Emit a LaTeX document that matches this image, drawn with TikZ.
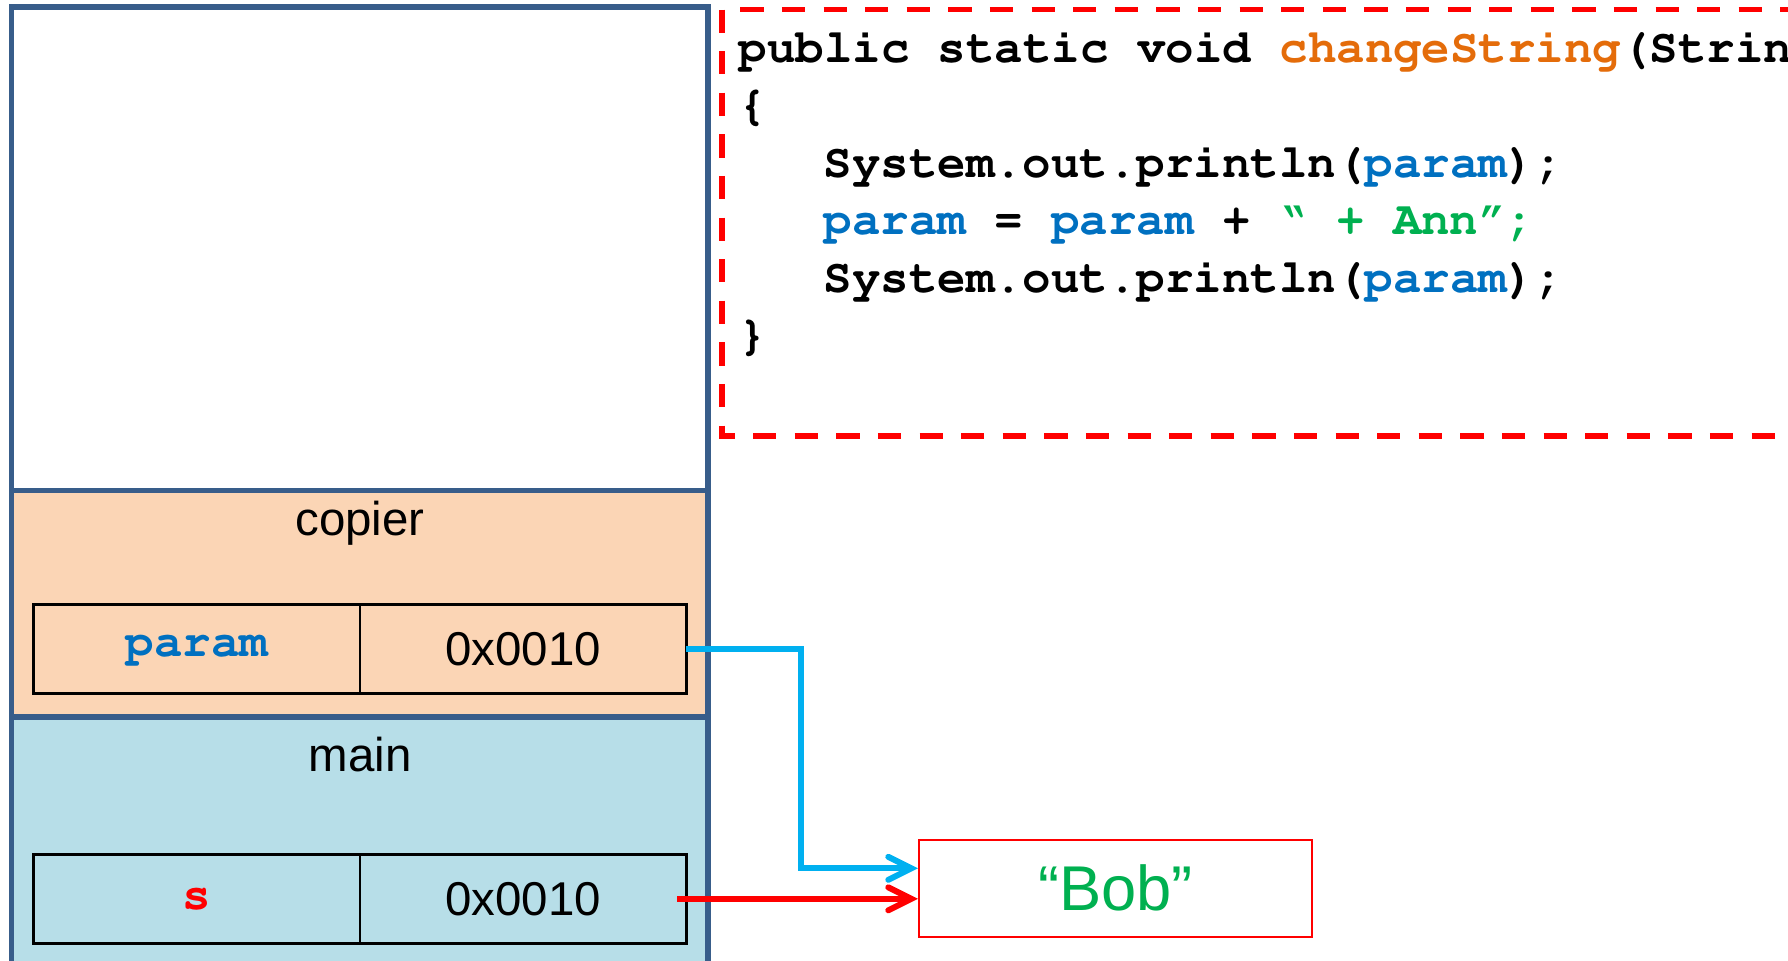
\documentclass[tikz,border=0pt]{standalone}
\usepackage[T1]{fontenc}
\usepackage{fontspec}
\setmainfont{Liberation Sans}
\newcommand{\codefont}{\fontencoding{T1}\fontfamily{pcr}\selectfont}
\usetikzlibrary{arrows.meta, positioning}
\definecolor{stackline}{HTML}{385D8A}
\definecolor{framepeach}{HTML}{FBD5B5}
\definecolor{framecyan}{HTML}{B7DEE8}
\definecolor{refblue}{HTML}{00B0F0}
\definecolor{codeblue}{HTML}{0070C0}
\definecolor{codegreen}{HTML}{00B050}
\definecolor{codeorange}{HTML}{E46C0A}
\definecolor{refred}{HTML}{FF0000}

\begin{document}
\begin{tikzpicture}[
    stackframe/.style={draw=stackline, line width=1.5pt},
    framelabel/.style={anchor=base, inner sep=0pt, font=\fontsize{13.5}{16}\selectfont},
    cellbox/.style={draw=black, line width=0.75pt, minimum width=3.264cm, minimum height=0.89cm, inner sep=0pt, outer sep=0pt, font=\fontsize{13.5}{16}\selectfont},
    varname/.style={cellbox, font=\codefont\bfseries\fontsize{13.5}{16}\selectfont},
    codeline/.style={anchor=base west, inner sep=0pt, font=\codefont\bfseries\fontsize{13.5}{16}\selectfont},
    codebox/.style={refred, line width=1.6pt, dash pattern=on 2.33mm off 1.83mm},
    refarrow/.style={-{Straight Barb[length=2.3mm, width=2.3mm, line cap=round]}, line width=1.7pt}
  ]
    \useasboundingbox (0,0) rectangle (17.88,-9.60);
    \clip (0,0) rectangle (17.88,-9.60);

    % Stack (left)
    \draw[stackframe, fill=white] (0.115,-0.07) rectangle (7.08,-4.905);
    \draw[stackframe, fill=framepeach] (0.115,-4.905) rectangle (7.08,-7.17);
    \draw[stackframe, fill=framecyan] (0.115,-7.17) rectangle (7.08,-9.9);

    % Frame copier
    \node[framelabel] (copierlbl) at (3.60,-5.35) {copier};
    \node[varname, text=codeblue] (pname) at (1.968,-6.488) {param};
    \node[cellbox, right=0pt of pname] (pval) {0x0010};

    % Frame main
    \node[framelabel] (mainlbl) at (3.60,-7.717) {main};
    \node[varname, text=refred] (sname) at (1.968,-8.988) {s};
    \node[cellbox, right=0pt of sname] (sval) {0x0010};

    % String on the heap
    \node[draw=refred, line width=0.6pt, minimum width=3.93cm, minimum height=0.967cm, text=codegreen, font=\fontsize{18}{21}\selectfont] (bob) at (11.155,-8.883) {“Bob”};

    % Code of changeString (dashed box)
    \draw[codebox] (7.22,-0.095) -- (7.22,-4.36) -- (18.3,-4.36);
    \draw[codebox, dash phase=2.33mm] (7.22,-0.095) -- (18.3,-0.095);
    \node[codeline] (l1) at (7.38,-0.62) {public static void \textcolor{codeorange}{changeString}(String};
    \node[codeline] (l2) at (7.38,-1.195) {\{};
    \node[codeline] (l3) at (8.23,-1.77) {System.out.println(\textcolor{codeblue}{param});};
    \node[codeline] (l4) at (8.23,-2.345) {\textcolor{codeblue}{param} = \textcolor{codeblue}{param} + \textcolor{codegreen}{\textquotedblleft{} + Ann\textquotedblright;}};
    \node[codeline] (l5) at (8.23,-2.92) {System.out.println(\textcolor{codeblue}{param});};
    \node[codeline] (l6) at (7.38,-3.495) {\}};

    % References to the string
    \draw[refarrow, refblue] (pval.east) -- ++(1.146,0) |- ([yshift=2mm]bob.west);
    \draw[refarrow, refred] ([xshift=-0.9mm]sval.east) -- (sval.east -| bob.west);
\end{tikzpicture}
\end{document}
